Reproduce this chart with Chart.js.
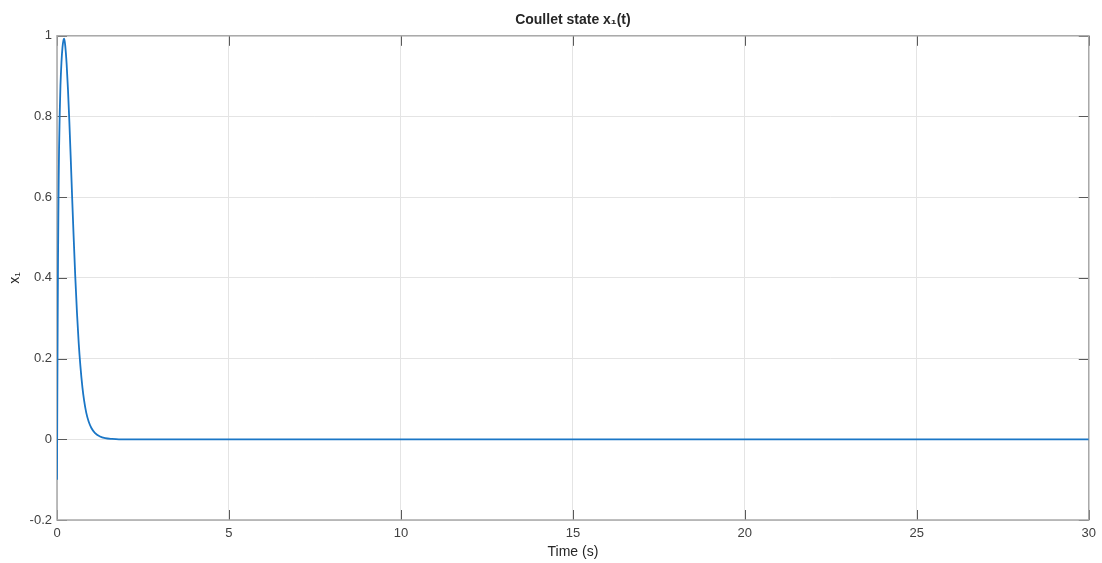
<!DOCTYPE html>
<html>
<head>
<meta charset="utf-8">
<script src="https://cdn.jsdelivr.net/npm/chart.js@4/dist/chart.umd.min.js"></script>
<style>
  html, body { margin: 0; padding: 0; background: #fff; }
  canvas { display: block; }
</style>
</head>
<body>
<canvas id="c" width="1102" height="563"></canvas>
<script>
// Time samples (s) of the simulated Coullet state x1
const timeS = [0, 0.01, 0.02, 0.03, 0.04, 0.05, 0.06, 0.08, 0.10, 0.13, 0.16, 0.19, 0.21, 0.24, 0.28,
  0.32, 0.36, 0.40, 0.44, 0.48, 0.53, 0.58, 0.63, 0.68, 0.74, 0.79, 0.85, 0.92, 1.00, 1.10, 1.25,
  1.40, 1.60, 1.80, 2.0, 5, 10, 15, 20, 25, 30];
const x1Values = [-0.10, 0.12, 0.30, 0.45, 0.56, 0.65, 0.72, 0.81, 0.875, 0.935, 0.972, 0.99, 0.993, 0.975, 0.93,
  0.865, 0.785, 0.695, 0.60, 0.51, 0.405, 0.315, 0.24, 0.182, 0.128, 0.095, 0.066, 0.044, 0.028, 0.016, 0.007,
  0.003, 0.001, 0, 0, 0, 0, 0, 0, 0, 0];
const xTickValues = [0, 5, 10, 15, 20, 25, 30];
const yTickValues = [-0.2, 0, 0.2, 0.4, 0.6, 0.8, 1];

const points = timeS.map((t, i) => ({ x: t, y: x1Values[i] }));

const FONT = "'Liberation Sans', Arial, Helvetica, sans-serif";
const TICK_LEN = 10;

// Box around the axes with inward tick marks on all four sides
const axesBox = {
  id: 'axesBox',
  beforeDatasetsDraw(chart) {
    const { ctx, chartArea: a, scales: { x, y } } = chart;
    ctx.save();
    ctx.strokeStyle = '#5a5a5a';
    ctx.lineWidth = 1;
    ctx.beginPath();
    xTickValues.forEach(v => {
      const px = Math.round(x.getPixelForValue(v)) + 0.5;
      ctx.moveTo(px, a.bottom); ctx.lineTo(px, a.bottom - TICK_LEN);
      ctx.moveTo(px, a.top); ctx.lineTo(px, a.top + TICK_LEN);
    });
    yTickValues.forEach(v => {
      const py = Math.round(y.getPixelForValue(v)) + 0.5;
      ctx.moveTo(a.left, py); ctx.lineTo(a.left + TICK_LEN, py);
      ctx.moveTo(a.right, py); ctx.lineTo(a.right - TICK_LEN, py);
    });
    ctx.stroke();
    ctx.strokeStyle = '#a8a8a8';
    ctx.lineWidth = 1.5;
    ctx.strokeRect(a.left, a.top, a.right - a.left, a.bottom - a.top);
    ctx.restore();
  }
};

new Chart(document.getElementById('c'), {
  type: 'line',
  data: {
    datasets: [{
      data: points,
      borderColor: '#1a76c6',
      borderWidth: 1.8,
      pointRadius: 0,
      cubicInterpolationMode: 'monotone',
      fill: false
    }]
  },
  options: {
    responsive: false,
    animation: false,
    events: [],
    layout: { padding: { top: 0, right: 10, bottom: 0, left: 0 } },
    plugins: {
      legend: { display: false },
      tooltip: { enabled: false },
      title: {
        display: true,
        fullSize: false,
        text: 'Coullet state x\u2081(t)',
        color: '#262626',
        font: { family: FONT, size: 14, weight: 'bold' },
        padding: { top: 12, bottom: 7 }
      }
    },
    scales: {
      x: {
        type: 'linear',
        min: 0, max: 30,
        afterBuildTicks(scale) { scale.ticks = xTickValues.map(v => ({ value: v })); },
        afterFit(scale) { scale.height = 43; },
        grid: { color: '#e4e4e4', drawTicks: false, lineWidth: 1 },
        border: { display: false },
        ticks: {
          color: '#404040',
          font: { family: FONT, size: 13 },
          padding: 6,
          maxRotation: 0,
          callback: v => String(v)
        },
        title: {
          display: true,
          text: 'Time (s)',
          color: '#262626',
          font: { family: FONT, size: 14 },
          padding: { top: 1, bottom: 2 }
        }
      },
      y: {
        type: 'linear',
        min: -0.2, max: 1,
        afterBuildTicks(scale) { scale.ticks = yTickValues.map(v => ({ value: v })); },
        afterFit(scale) { scale.width = 57; },
        grid: { color: '#e4e4e4', drawTicks: false, lineWidth: 1 },
        border: { display: false },
        ticks: {
          color: '#404040',
          font: { family: FONT, size: 13 },
          padding: 5,
          callback: v => String(Number(v.toFixed(1)))
        },
        title: {
          display: true,
          text: 'x\u2081',
          color: '#262626',
          font: { family: FONT, size: 14 },
          padding: { top: 7, bottom: 0 }
        }
      }
    }
  },
  plugins: [axesBox]
});
</script>
</body>
</html>
